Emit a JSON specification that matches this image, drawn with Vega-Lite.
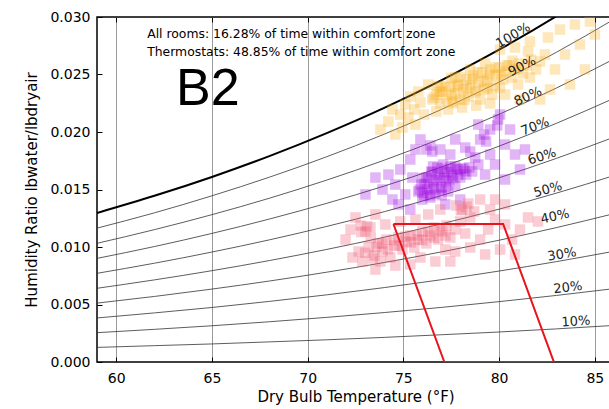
{
  "$schema": "https://vega.github.io/schema/vega-lite/v6.json",
  "width": 517,
  "height": 345,
  "autosize": {"type": "none"},
  "padding": {"left": 97, "top": 17, "right": 0, "bottom": 47},
  "background": "white",
  "config": {
    "view": {"stroke": "black", "strokeWidth": 1.5},
    "font": "DejaVu Sans"
  },
  "datasets": {
    "rh": [
      {"rh":10,"t":59,"w":0.00127},{"rh":20,"t":59,"w":0.00255},{"rh":30,"t":59,"w":0.00383},{"rh":40,"t":59,"w":0.00512},{"rh":50,"t":59,"w":0.00641},{"rh":60,"t":59,"w":0.00771},{"rh":70,"t":59,"w":0.00901},{"rh":80,"t":59,"w":0.01032},{"rh":90,"t":59,"w":0.01164},{"rh":100,"t":59,"w":0.01296},
      {"rh":10,"t":62,"w":0.00142},{"rh":20,"t":62,"w":0.00284},{"rh":30,"t":62,"w":0.00427},{"rh":40,"t":62,"w":0.0057},{"rh":50,"t":62,"w":0.00714},{"rh":60,"t":62,"w":0.00859},{"rh":70,"t":62,"w":0.01004},{"rh":80,"t":62,"w":0.01151},{"rh":90,"t":62,"w":0.01297},{"rh":100,"t":62,"w":0.01445},
      {"rh":10,"t":65,"w":0.00157},{"rh":20,"t":65,"w":0.00315},{"rh":30,"t":65,"w":0.00474},{"rh":40,"t":65,"w":0.00634},{"rh":50,"t":65,"w":0.00794},{"rh":60,"t":65,"w":0.00956},{"rh":70,"t":65,"w":0.01118},{"rh":80,"t":65,"w":0.01281},{"rh":90,"t":65,"w":0.01445},{"rh":100,"t":65,"w":0.01609},
      {"rh":10,"t":68,"w":0.00175},{"rh":20,"t":68,"w":0.0035},{"rh":30,"t":68,"w":0.00527},{"rh":40,"t":68,"w":0.00704},{"rh":50,"t":68,"w":0.00882},{"rh":60,"t":68,"w":0.01062},{"rh":70,"t":68,"w":0.01243},{"rh":80,"t":68,"w":0.01424},{"rh":90,"t":68,"w":0.01607},{"rh":100,"t":68,"w":0.0179},
      {"rh":10,"t":71,"w":0.00193},{"rh":20,"t":71,"w":0.00388},{"rh":30,"t":71,"w":0.00584},{"rh":40,"t":71,"w":0.00781},{"rh":50,"t":71,"w":0.00979},{"rh":60,"t":71,"w":0.01179},{"rh":70,"t":71,"w":0.0138},{"rh":80,"t":71,"w":0.01582},{"rh":90,"t":71,"w":0.01785},{"rh":100,"t":71,"w":0.0199},
      {"rh":10,"t":74,"w":0.00214},{"rh":20,"t":74,"w":0.0043},{"rh":30,"t":74,"w":0.00647},{"rh":40,"t":74,"w":0.00865},{"rh":50,"t":74,"w":0.01085},{"rh":60,"t":74,"w":0.01307},{"rh":70,"t":74,"w":0.0153},{"rh":80,"t":74,"w":0.01755},{"rh":90,"t":74,"w":0.01981},{"rh":100,"t":74,"w":0.02209},
      {"rh":10,"t":77,"w":0.00237},{"rh":20,"t":77,"w":0.00475},{"rh":30,"t":77,"w":0.00716},{"rh":40,"t":77,"w":0.00958},{"rh":50,"t":77,"w":0.01202},{"rh":60,"t":77,"w":0.01448},{"rh":70,"t":77,"w":0.01696},{"rh":80,"t":77,"w":0.01945},{"rh":90,"t":77,"w":0.02197},{"rh":100,"t":77,"w":0.02451},
      {"rh":10,"t":80,"w":0.00261},{"rh":20,"t":80,"w":0.00525},{"rh":30,"t":80,"w":0.00791},{"rh":40,"t":80,"w":0.01059},{"rh":50,"t":80,"w":0.01329},{"rh":60,"t":80,"w":0.01602},{"rh":70,"t":80,"w":0.01877},{"rh":80,"t":80,"w":0.02154},{"rh":90,"t":80,"w":0.02434},{"rh":100,"t":80,"w":0.02716},
      {"rh":10,"t":83,"w":0.00288},{"rh":20,"t":83,"w":0.00579},{"rh":30,"t":83,"w":0.00873},{"rh":40,"t":83,"w":0.01169},{"rh":50,"t":83,"w":0.01469},{"rh":60,"t":83,"w":0.01771},{"rh":70,"t":83,"w":0.02076},{"rh":80,"t":83,"w":0.02383},{"rh":90,"t":83,"w":0.02694},{"rh":100,"t":83,"w":0.03008},
      {"rh":10,"t":86,"w":0.00318},{"rh":20,"t":86,"w":0.00638},{"rh":30,"t":86,"w":0.00963},{"rh":40,"t":86,"w":0.0129},{"rh":50,"t":86,"w":0.01621},{"rh":60,"t":86,"w":0.01955},{"rh":70,"t":86,"w":0.02293},{"rh":80,"t":86,"w":0.02635},{"rh":90,"t":86,"w":0.0298},{"rh":100,"t":86,"w":0.03329}
    ],
    "labels": [
      {"rh":100,"t":80.73,"w":0.02839,"label":"100%"},
      {"rh":90,"t":81.2,"w":0.0257,"label":"90%"},
      {"rh":80,"t":81.51,"w":0.02309,"label":"80%"},
      {"rh":70,"t":81.88,"w":0.02048,"label":"70%"},
      {"rh":60,"t":82.24,"w":0.01787,"label":"60%"},
      {"rh":50,"t":82.55,"w":0.015,"label":"50%"},
      {"rh":40,"t":82.92,"w":0.01265,"label":"40%"},
      {"rh":30,"t":83.28,"w":0.00935,"label":"30%"},
      {"rh":20,"t":83.59,"w":0.00648,"label":"20%"},
      {"rh":10,"t":84.01,"w":0.00352,"label":"10%"}
    ],
    "comfort": [
      {"i":0,"t":74.48,"w":0.012},
      {"i":1,"t":80.21,"w":0.012},
      {"i":2,"t":82.86,"w":0},
      {"i":3,"t":77.14,"w":0},
      {"i":4,"t":74.48,"w":0.012}
    ],
    "notes": [
      {"t":61.62,"w":0.02817,"text":"All rooms: 16.28% of time within comfort zone"},
      {"t":61.62,"w":0.02665,"text":"Thermostats: 48.85% of time within comfort zone"}
    ],
    "title": [
      {"t":63.13,"w":0.02239,"text":"B2"}
    ],
    "pts": [
      {"g":"1","t":76.51,"w":0.02283},{"g":"1","t":76.72,"w":0.02326},{"g":"1","t":76.93,"w":0.02248},{"g":"1","t":77.03,"w":0.02352},{"g":"1","t":77.24,"w":0.02291},{"g":"1","t":77.45,"w":0.02387},{"g":"1","t":77.55,"w":0.02265},{"g":"1","t":77.71,"w":0.02335},{"g":"1","t":77.86,"w":0.02413},{"g":"1","t":77.97,"w":0.02283},{"g":"1","t":78.13,"w":0.0237},{"g":"1","t":78.28,"w":0.02457},{"g":"1","t":78.39,"w":0.02309},{"g":"1","t":78.49,"w":0.02404},{"g":"1","t":78.65,"w":0.02491},{"g":"1","t":78.75,"w":0.02344},{"g":"1","t":78.91,"w":0.02431},{"g":"1","t":79.01,"w":0.02283},{"g":"1","t":79.11,"w":0.02517},{"g":"1","t":79.22,"w":0.0237},{"g":"1","t":79.38,"w":0.02457},{"g":"1","t":79.53,"w":0.02544},{"g":"1","t":79.64,"w":0.02326},{"g":"1","t":79.74,"w":0.02404},{"g":"1","t":79.84,"w":0.02491},{"g":"1","t":80.0,"w":0.02561},{"g":"1","t":80.05,"w":0.02387},{"g":"1","t":80.21,"w":0.02457},{"g":"1","t":80.36,"w":0.02526},{"g":"1","t":80.52,"w":0.02578},{"g":"1","t":80.68,"w":0.02474},{"g":"1","t":80.83,"w":0.02544},{"g":"1","t":81.04,"w":0.02596},{"g":"1","t":81.25,"w":0.02509},{"g":"1","t":81.46,"w":0.02578},{"g":"1","t":81.67,"w":0.0263},
      {"g":"1","t":76.6,"w":0.023},{"g":"1","t":76.9,"w":0.0235},{"g":"1","t":77.2,"w":0.024},{"g":"1","t":77.5,"w":0.0232},{"g":"1","t":77.8,"w":0.024},{"g":"1","t":78.0,"w":0.0248},{"g":"1","t":78.3,"w":0.0238},{"g":"1","t":78.6,"w":0.0246},{"g":"1","t":78.9,"w":0.0252},{"g":"1","t":79.2,"w":0.0244},{"g":"1","t":79.5,"w":0.025},{"g":"1","t":79.8,"w":0.0256},{"g":"1","t":80.1,"w":0.025},{"g":"1","t":80.4,"w":0.0258},{"g":"1","t":80.7,"w":0.0262},{"g":"1","t":81.0,"w":0.0255},{"g":"1","t":78.2,"w":0.0228},{"g":"1","t":78.8,"w":0.0236},{"g":"1","t":79.4,"w":0.0238},{"g":"1","t":77.6,"w":0.0225},{"g":"1","t":76.8,"w":0.024},{"g":"1","t":77.5,"w":0.0247},
      {"g":"1","t":75.1,"w":0.02239},{"g":"1","t":75.36,"w":0.02309},{"g":"1","t":75.57,"w":0.02196},{"g":"1","t":75.89,"w":0.02257},{"g":"1","t":76.09,"w":0.02152},{"g":"1","t":75.26,"w":0.02126},{"g":"1","t":75.78,"w":0.02352},{"g":"1","t":76.3,"w":0.02413},{"g":"1","t":76.72,"w":0.02178},{"g":"1","t":77.34,"w":0.02196},{"g":"1","t":78.07,"w":0.02213},{"g":"1","t":78.8,"w":0.0223},{"g":"1","t":79.53,"w":0.02248},{"g":"1","t":80.31,"w":0.02326},{"g":"1","t":80.99,"w":0.02413},{"g":"1","t":81.61,"w":0.02474},{"g":"1","t":81.93,"w":0.02544},{"g":"1","t":82.14,"w":0.02613},{"g":"1","t":82.4,"w":0.02674},{"g":"1","t":81.51,"w":0.027},
      {"g":"1","t":73.8,"w":0.02022},{"g":"1","t":74.22,"w":0.02091},{"g":"1","t":74.58,"w":0.01978},{"g":"1","t":74.84,"w":0.02152},{"g":"1","t":74.43,"w":0.02196},{"g":"1","t":74.95,"w":0.02039},{"g":"1","t":75.63,"w":0.02065},{"g":"1","t":76.93,"w":0.02387},{"g":"1","t":77.71,"w":0.02474},{"g":"1","t":78.49,"w":0.02544},{"g":"1","t":79.27,"w":0.02596},{"g":"1","t":80.05,"w":0.02717},{"g":"1","t":80.83,"w":0.02735},{"g":"1","t":81.61,"w":0.02787},{"g":"1","t":82.55,"w":0.02822},{"g":"1","t":83.18,"w":0.02891},{"g":"1","t":83.96,"w":0.02935},{"g":"1","t":84.74,"w":0.02961},{"g":"1","t":82.92,"w":0.02544},{"g":"1","t":83.44,"w":0.02674},{"g":"1","t":84.22,"w":0.02761},{"g":"1","t":85.0,"w":0.02848},{"g":"1","t":83.7,"w":0.02413},{"g":"1","t":82.66,"w":0.0237},{"g":"1","t":82.14,"w":0.02283},{"g":"1","t":81.09,"w":0.02283},{"g":"1","t":84.48,"w":0.02544},
      {"g":"2","t":75.78,"w":0.01483},{"g":"2","t":75.94,"w":0.01543},{"g":"2","t":76.09,"w":0.01448},{"g":"2","t":76.2,"w":0.01604},{"g":"2","t":76.35,"w":0.01509},{"g":"2","t":76.46,"w":0.01657},{"g":"2","t":76.56,"w":0.01561},{"g":"2","t":76.67,"w":0.01465},{"g":"2","t":76.77,"w":0.01691},{"g":"2","t":76.88,"w":0.01604},{"g":"2","t":76.98,"w":0.01517},{"g":"2","t":77.14,"w":0.01657},{"g":"2","t":77.24,"w":0.0157},{"g":"2","t":77.34,"w":0.01483},{"g":"2","t":77.45,"w":0.017},{"g":"2","t":77.55,"w":0.01622},{"g":"2","t":77.71,"w":0.01535},{"g":"2","t":77.81,"w":0.01674},{"g":"2","t":77.97,"w":0.01604},{"g":"2","t":78.13,"w":0.01683},{"g":"2","t":78.28,"w":0.0163},{"g":"2","t":78.44,"w":0.01691},{"g":"2","t":75.99,"w":0.01413},{"g":"2","t":76.41,"w":0.0143},{"g":"2","t":77.08,"w":0.01717},{"g":"2","t":78.59,"w":0.01657},
      {"g":"2","t":75.85,"w":0.015},{"g":"2","t":76.0,"w":0.0147},{"g":"2","t":76.1,"w":0.0155},{"g":"2","t":76.25,"w":0.015},{"g":"2","t":76.3,"w":0.016},{"g":"2","t":76.4,"w":0.0145},{"g":"2","t":76.5,"w":0.0165},{"g":"2","t":76.6,"w":0.0152},{"g":"2","t":76.7,"w":0.0158},{"g":"2","t":76.8,"w":0.0163},{"g":"2","t":76.9,"w":0.015},{"g":"2","t":77.0,"w":0.0168},{"g":"2","t":77.1,"w":0.016},{"g":"2","t":77.2,"w":0.0152},{"g":"2","t":77.3,"w":0.0165},{"g":"2","t":77.4,"w":0.0158},{"g":"2","t":77.5,"w":0.0168},{"g":"2","t":77.6,"w":0.016},{"g":"2","t":77.7,"w":0.017},{"g":"2","t":77.85,"w":0.0163},{"g":"2","t":78.0,"w":0.0168},{"g":"2","t":78.2,"w":0.0166},{"g":"2","t":76.0,"w":0.016},{"g":"2","t":76.55,"w":0.017},{"g":"2","t":77.0,"w":0.0145},
      {"g":"2","t":76.2,"w":0.01848},{"g":"2","t":76.41,"w":0.01883},{"g":"2","t":76.51,"w":0.0183},{"g":"2","t":79.01,"w":0.01935},{"g":"2","t":79.22,"w":0.01978},{"g":"2","t":79.32,"w":0.01917},{"g":"2","t":79.95,"w":0.02109},{"g":"2","t":80.05,"w":0.02152},{"g":"2","t":79.9,"w":0.02057},{"g":"2","t":78.75,"w":0.01778},{"g":"2","t":78.49,"w":0.0183},
      {"g":"2","t":73.54,"w":0.01604},{"g":"2","t":73.91,"w":0.015},{"g":"2","t":74.22,"w":0.0163},{"g":"2","t":74.58,"w":0.01543},{"g":"2","t":74.84,"w":0.01674},{"g":"2","t":75.1,"w":0.01457},{"g":"2","t":74.74,"w":0.0137},{"g":"2","t":75.36,"w":0.01761},{"g":"2","t":75.63,"w":0.01848},{"g":"2","t":75.47,"w":0.01604},{"g":"2","t":75.89,"w":0.01935},{"g":"2","t":76.93,"w":0.01848},{"g":"2","t":77.45,"w":0.01804},{"g":"2","t":77.71,"w":0.01935},{"g":"2","t":78.23,"w":0.01865},{"g":"2","t":78.91,"w":0.01717},{"g":"2","t":79.27,"w":0.0163},{"g":"2","t":79.53,"w":0.01804},{"g":"2","t":79.79,"w":0.01717},{"g":"2","t":80.31,"w":0.01891},{"g":"2","t":80.57,"w":0.02022},{"g":"2","t":80.83,"w":0.01804},{"g":"2","t":81.09,"w":0.01674},{"g":"2","t":81.35,"w":0.01848},{"g":"2","t":80.31,"w":0.01587},{"g":"2","t":77.97,"w":0.01413},{"g":"2","t":77.19,"w":0.0137},{"g":"2","t":78.91,"w":0.02065},{"g":"2","t":79.53,"w":0.02022},{"g":"2","t":75.36,"w":0.01326},{"g":"2","t":74.43,"w":0.01413},{"g":"2","t":73.02,"w":0.01457},
      {"g":"3","t":72.34,"w":0.00909},{"g":"3","t":72.66,"w":0.00961},{"g":"3","t":72.86,"w":0.00874},{"g":"3","t":73.02,"w":0.01135},{"g":"3","t":72.76,"w":0.01187},{"g":"3","t":73.28,"w":0.0117},{"g":"3","t":73.18,"w":0.00996},{"g":"3","t":73.49,"w":0.00926},{"g":"3","t":73.7,"w":0.01031},{"g":"3","t":73.91,"w":0.00961},{"g":"3","t":74.11,"w":0.01065},{"g":"3","t":74.32,"w":0.00909},{"g":"3","t":74.53,"w":0.01013},{"g":"3","t":74.74,"w":0.01083},{"g":"3","t":74.95,"w":0.00978},{"g":"3","t":75.16,"w":0.01048},{"g":"3","t":75.36,"w":0.011},{"g":"3","t":75.57,"w":0.00996},{"g":"3","t":75.78,"w":0.01065},{"g":"3","t":75.99,"w":0.01135},{"g":"3","t":76.2,"w":0.01031},{"g":"3","t":76.41,"w":0.011},{"g":"3","t":76.61,"w":0.0117},{"g":"3","t":76.82,"w":0.01065},{"g":"3","t":77.03,"w":0.01135},{"g":"3","t":77.24,"w":0.01187},{"g":"3","t":77.45,"w":0.01083},{"g":"3","t":77.71,"w":0.01152},{"g":"3","t":77.97,"w":0.01222},{"g":"3","t":78.23,"w":0.01117},{"g":"3","t":77.76,"w":0.01361},{"g":"3","t":78.07,"w":0.01326},{"g":"3","t":78.39,"w":0.01378},{"g":"3","t":78.7,"w":0.01309},{"g":"3","t":78.49,"w":0.01257},{"g":"3","t":73.8,"w":0.00874},{"g":"3","t":74.58,"w":0.00839},
      {"g":"3","t":72.8,"w":0.0113},{"g":"3","t":73.1,"w":0.0118},{"g":"3","t":73.3,"w":0.0108},{"g":"3","t":73.6,"w":0.01},{"g":"3","t":73.9,"w":0.0103},{"g":"3","t":74.2,"w":0.0098},{"g":"3","t":74.5,"w":0.0106},{"g":"3","t":74.8,"w":0.0101},{"g":"3","t":75.1,"w":0.0109},{"g":"3","t":75.4,"w":0.0104},{"g":"3","t":75.7,"w":0.011},{"g":"3","t":76.0,"w":0.0106},{"g":"3","t":76.3,"w":0.0113},{"g":"3","t":76.6,"w":0.0108},{"g":"3","t":76.9,"w":0.0115},{"g":"3","t":73.0,"w":0.0095},{"g":"3","t":73.4,"w":0.009},{"g":"3","t":77.2,"w":0.011},{"g":"3","t":78.0,"w":0.0132},{"g":"3","t":78.3,"w":0.0135},
      {"g":"3","t":71.98,"w":0.01065},{"g":"3","t":72.24,"w":0.01152},{"g":"3","t":72.5,"w":0.01257},{"g":"3","t":73.54,"w":0.01283},{"g":"3","t":74.06,"w":0.01196},{"g":"3","t":74.84,"w":0.01222},{"g":"3","t":75.63,"w":0.01239},{"g":"3","t":76.3,"w":0.01283},{"g":"3","t":76.93,"w":0.01326},{"g":"3","t":77.19,"w":0.00978},{"g":"3","t":77.71,"w":0.00961},{"g":"3","t":78.49,"w":0.00996},{"g":"3","t":79.01,"w":0.01065},{"g":"3","t":79.43,"w":0.01152},{"g":"3","t":79.79,"w":0.01239},{"g":"3","t":80.31,"w":0.01196},{"g":"3","t":80.68,"w":0.01065},{"g":"3","t":81.09,"w":0.01152},{"g":"3","t":81.51,"w":0.01257},{"g":"3","t":82.03,"w":0.01222},{"g":"3","t":79.27,"w":0.00935},{"g":"3","t":80.05,"w":0.00978},{"g":"3","t":80.83,"w":0.00935},{"g":"3","t":79.53,"w":0.01326},{"g":"3","t":80.31,"w":0.0137},{"g":"3","t":75.89,"w":0.00909},{"g":"3","t":76.67,"w":0.00874},{"g":"3","t":77.45,"w":0.00874},{"g":"3","t":73.54,"w":0.00804},{"g":"3","t":75.36,"w":0.00848},{"g":"3","t":79.01,"w":0.01413},{"g":"3","t":79.79,"w":0.01413}
    ]
  },
  "layer": [
    {
      "data": {"name": "rh"},
      "transform": [{"filter": "datum.rh < 100"}],
      "mark": {"type": "line", "clip": true, "interpolate": "monotone", "color": "#333333", "strokeWidth": 0.8},
      "encoding": {
        "x": {
          "field": "t", "type": "quantitative",
          "scale": {"domain": [59, 86], "nice": false, "zero": false},
          "axis": {
            "orient": "bottom", "values": [60, 65, 70, 75, 80, 85], "grid": true, "gridColor": "#808080", "gridWidth": 0.8,
            "domain": false, "tickSize": -5, "tickColor": "black", "labelPadding": 14, "labelFontSize": 14, "labelColor": "black",
            "title": "Dry Bulb Temperature (°F)", "titleFontSize": 15, "titleFontWeight": "normal", "titleColor": "black", "titlePadding": 4
          }
        },
        "y": {
          "field": "w", "type": "quantitative",
          "scale": {"domain": [0, 0.03], "nice": false},
          "axis": {
            "orient": "left", "values": [0, 0.005, 0.01, 0.015, 0.02, 0.025, 0.03], "format": ".3f", "grid": false,
            "domain": false, "tickSize": -5, "tickColor": "black", "labelPadding": 12, "labelFontSize": 14, "labelColor": "black",
            "title": "Humidity Ratio lbwater/lbdryair", "titleFontSize": 15, "titleFontWeight": "normal", "titleColor": "black", "titlePadding": 10
          }
        },
        "detail": {"field": "rh", "type": "nominal"}
      }
    },
    {
      "data": {"name": "rh"},
      "transform": [{"filter": "datum.rh == 100"}],
      "mark": {"type": "line", "clip": true, "interpolate": "monotone", "color": "black", "strokeWidth": 2},
      "encoding": {
        "x": {
          "field": "t", "type": "quantitative",
          "scale": {"domain": [59, 86], "nice": false, "zero": false},
          "axis": {"orient": "top", "values": [60, 65, 70, 75, 80, 85], "grid": false, "domain": false, "labels": false, "tickSize": -5, "tickColor": "black", "title": null}
        },
        "y": {
          "field": "w", "type": "quantitative",
          "scale": {"domain": [0, 0.03], "nice": false},
          "axis": {"orient": "right", "values": [0, 0.005, 0.01, 0.015, 0.02, 0.025, 0.03], "grid": false, "domain": false, "labels": false, "tickSize": -5, "tickColor": "black", "title": null}
        }
      }
    },
    {
      "data": {"name": "pts"},
      "mark": {"type": "point", "shape": "square", "filled": true, "size": 110, "opacity": 0.3, "clip": true},
      "encoding": {
        "x": {"field": "t", "type": "quantitative", "axis": null},
        "y": {"field": "w", "type": "quantitative", "axis": null},
        "color": {"field": "g", "type": "nominal", "scale": {"domain": ["1", "2", "3"], "range": ["#f7ae1e", "#a00ce0", "#f05a75"]}, "legend": null}
      }
    },
    {
      "data": {"name": "comfort"},
      "mark": {"type": "line", "color": "#e8141c", "strokeWidth": 2, "clip": true},
      "encoding": {
        "x": {"field": "t", "type": "quantitative", "axis": null},
        "y": {"field": "w", "type": "quantitative", "axis": null},
        "order": {"field": "i", "type": "quantitative"}
      }
    },
    {
      "data": {"name": "labels"},
      "mark": {"type": "text", "fontSize": 13, "color": "#222222", "align": "center", "baseline": "middle"},
      "encoding": {
        "x": {"field": "t", "type": "quantitative", "axis": null},
        "y": {"field": "w", "type": "quantitative", "axis": null},
        "text": {"field": "label", "type": "nominal"},
        "angle": {"field": "rh", "type": "quantitative", "scale": {"domain": [10, 100], "range": [-4, -30]}, "legend": null}
      }
    },
    {
      "data": {"name": "notes"},
      "mark": {"type": "text", "fontSize": 12.4, "color": "black", "align": "left", "baseline": "alphabetic"},
      "encoding": {
        "x": {"field": "t", "type": "quantitative", "axis": null},
        "y": {"field": "w", "type": "quantitative", "axis": null},
        "text": {"field": "text", "type": "nominal"}
      }
    },
    {
      "data": {"name": "title"},
      "mark": {"type": "text", "fontSize": 52, "font": "Liberation Sans", "color": "black", "align": "left", "baseline": "alphabetic"},
      "encoding": {
        "x": {"field": "t", "type": "quantitative", "axis": null},
        "y": {"field": "w", "type": "quantitative", "axis": null},
        "text": {"field": "text", "type": "nominal"}
      }
    }
  ],
  "resolve": {"axis": {"x": "independent", "y": "independent"}}
}
